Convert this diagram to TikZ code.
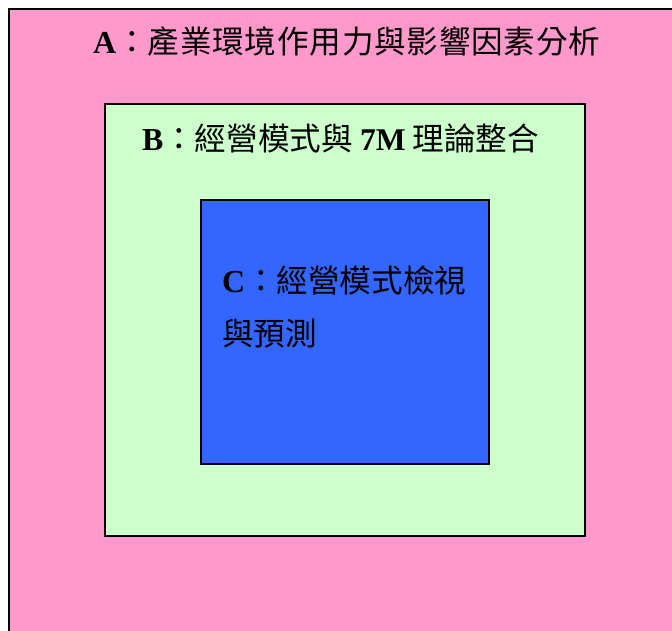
\documentclass[tikz,border=0pt]{standalone}
\usepackage{fontspec}
\setmainfont{Liberation Serif}
\newfontfamily\cjk{Noto Sans CJK TC}
\newfontfamily\cjkA[LetterSpace=2.5]{Noto Sans CJK TC}
\definecolor{pinkbg}{HTML}{FF99CC}
\definecolor{greenbg}{HTML}{CCFFCC}
\definecolor{bluebg}{HTML}{3366FF}
\tikzset{
  box/.style={draw=black, line width=1.6pt},
  lbl/.style={anchor=base west, inner sep=0pt, outer sep=0pt, text=black},
}
\begin{document}
\begin{tikzpicture}[x=1pt,y=-1pt]
\useasboundingbox (0,0) rectangle (672,630);
\fill[white] (0,0) rectangle (672,630);
\path[box, fill=pinkbg] (9,9) rectangle (700,660);
\path[box, fill=greenbg] (105,104) rectangle (585,536);
\path[box, fill=bluebg] (201,200) rectangle (489,464);
\node[lbl] (ta) at (93,53) {\fontsize{32}{32}\selectfont\textbf{A}\fontsize{31.6}{32}\selectfont\cjk ：\cjkA 產業環境作用力與影響因素分析};
\node[lbl] (tb) at (142,150) {\fontsize{32}{32}\selectfont\textbf{B}\fontsize{31.6}{32}\selectfont\cjk ：經營模式與 \textrm{\textbf{7M}} 理論整合};
\node[lbl] (tc1) at (222,292) {\fontsize{32}{32}\selectfont\textbf{C}\fontsize{31.6}{32}\selectfont\cjk ：經營模式檢視};
\node[lbl] (tc2) at (222,345) {\fontsize{31.6}{32}\selectfont\cjk 與預測};
\end{tikzpicture}
\end{document}
